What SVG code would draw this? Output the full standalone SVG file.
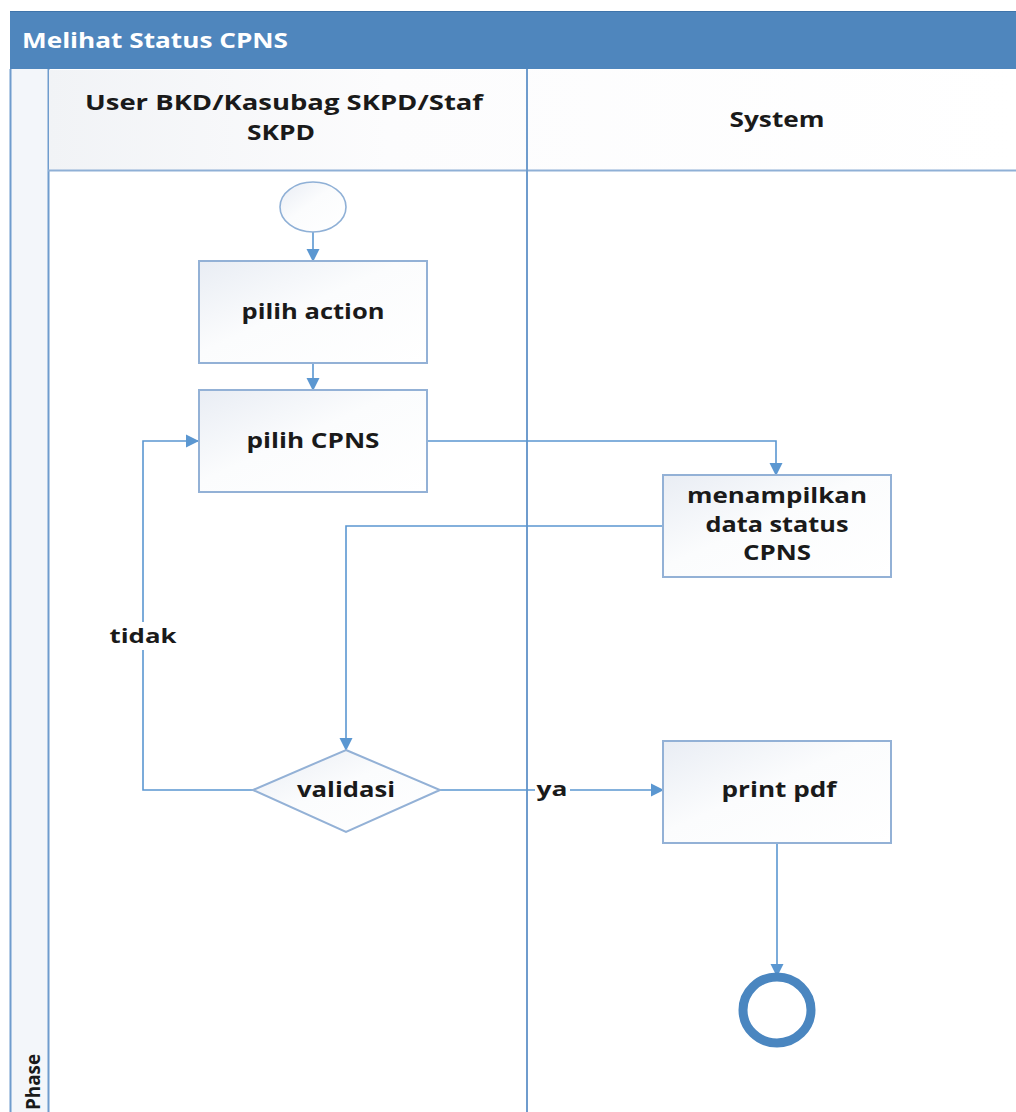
<svg xmlns="http://www.w3.org/2000/svg" width="1016" height="1112" viewBox="0 0 1016 1112">
  <style>
    .lbl { font-family: "Open Sans", "Noto Sans", "Liberation Sans", sans-serif; font-weight: bold; fill: #1a1a1a; }
    .box { stroke: #93b1d6; stroke-width: 2; fill: url(#boxFill); }
    .conn { fill: none; stroke: #5b97d1; stroke-width: 1.6; }
    .lane { stroke: #6f9ccd; stroke-width: 2; fill: none; }
  </style>
  <defs>
    <linearGradient id="boxFill" x1="0" y1="0" x2="1" y2="1">
      <stop offset="0" stop-color="#e9edf4"/>
      <stop offset="0.45" stop-color="#fbfcfd"/>
      <stop offset="1" stop-color="#ffffff"/>
    </linearGradient>
    <linearGradient id="headFill" x1="0" y1="0" x2="1" y2="0">
      <stop offset="0" stop-color="#f1f3f6"/>
      <stop offset="0.35" stop-color="#fcfcfd"/>
      <stop offset="1" stop-color="#ffffff"/>
    </linearGradient>
    <marker id="arrow" markerUnits="userSpaceOnUse" markerWidth="14" markerHeight="14" refX="12" refY="6.5" orient="auto" viewBox="0 0 14 13">
      <path d="M0,0 L13,6.5 L0,13 z" fill="#5b97d1"/>
    </marker>
  </defs>

  <!-- page background -->
  <rect x="0" y="0" width="1016" height="1112" fill="#ffffff"/>

  <!-- pool title bar -->
  <rect x="10" y="11" width="1006" height="58" fill="#4f86bd"/>
  <line x1="10" y1="11.5" x2="1016" y2="11.5" stroke="#3f74aa" stroke-width="1"/>
  <text x="22" y="48" class="lbl" style="fill:#ffffff" font-size="21" textLength="266" lengthAdjust="spacingAndGlyphs">Melihat Status CPNS</text>

  <!-- phase strip -->
  <rect x="10" y="69" width="38" height="1043" fill="#f3f6fa"/>
  <line x1="10.5" y1="69" x2="10.5" y2="1112" class="lane"/>
  <line x1="48.5" y1="69" x2="48.5" y2="1112" class="lane"/>
  <text transform="translate(40,1110) rotate(-90)" class="lbl" font-size="19" textLength="56" lengthAdjust="spacingAndGlyphs">Phase</text>

  <!-- lane headers -->
  <rect x="49" y="70" width="967" height="100" fill="url(#headFill)"/>
  <line x1="48" y1="170.5" x2="1016" y2="170.5" stroke="#8fb0d6" stroke-width="2"/>
  <line x1="527" y1="69" x2="527" y2="1112" class="lane"/>
  <text x="284" y="110" text-anchor="middle" class="lbl" font-size="21" textLength="398" lengthAdjust="spacingAndGlyphs">User BKD/Kasubag SKPD/Staf</text>
  <text x="281" y="140" text-anchor="middle" class="lbl" font-size="21" textLength="68" lengthAdjust="spacingAndGlyphs">SKPD</text>
  <text x="777" y="127" text-anchor="middle" class="lbl" font-size="21" textLength="95" lengthAdjust="spacingAndGlyphs">System</text>

  <!-- connectors -->
  <g id="connectors">
    <line x1="313" y1="232" x2="313" y2="261" class="conn" marker-end="url(#arrow)"/>
    <line x1="313" y1="363" x2="313" y2="390" class="conn" marker-end="url(#arrow)"/>
    <path d="M427 441 H776 V475" class="conn" marker-end="url(#arrow)"/>
    <path d="M663 526 H346 V750" class="conn" marker-end="url(#arrow)"/>
    <path d="M253 790 H143 V441 H198" class="conn" marker-end="url(#arrow)"/>
    <path d="M440 790 H663" class="conn" marker-end="url(#arrow)"/>
    <path d="M777 843 V976" class="conn" marker-end="url(#arrow)"/>
    <!-- branch labels -->
    <rect x="108" y="622" width="72" height="28" fill="#ffffff"/>
    <text x="143" y="643" text-anchor="middle" class="lbl" font-size="20" textLength="67" lengthAdjust="spacingAndGlyphs">tidak</text>
    <rect x="535" y="776" width="35" height="26" fill="#ffffff"/>
    <text x="552" y="796" text-anchor="middle" class="lbl" font-size="20" textLength="31" lengthAdjust="spacingAndGlyphs">ya</text>
  </g>

  <!-- start event -->
  <g id="start">
    <ellipse cx="313" cy="207" rx="33" ry="25" fill="url(#boxFill)" stroke="#8fb0d6" stroke-width="1.6"/>
  </g>

  <g id="pilih-action">
    <rect x="199" y="261" width="228" height="102" class="box"/>
    <text x="313" y="319" text-anchor="middle" class="lbl" font-size="21" textLength="143" lengthAdjust="spacingAndGlyphs">pilih action</text>
  </g>

  <g id="pilih-cpns">
    <rect x="199" y="390" width="228" height="102" class="box"/>
    <text x="313" y="448" text-anchor="middle" class="lbl" font-size="21" textLength="133" lengthAdjust="spacingAndGlyphs">pilih CPNS</text>
  </g>

  <g id="menampilkan">
    <rect x="663" y="475" width="228" height="102" class="box"/>
    <text x="777" y="503" text-anchor="middle" class="lbl" font-size="21" textLength="180" lengthAdjust="spacingAndGlyphs">menampilkan</text>
    <text x="777" y="532" text-anchor="middle" class="lbl" font-size="21" textLength="143" lengthAdjust="spacingAndGlyphs">data status</text>
    <text x="777" y="560" text-anchor="middle" class="lbl" font-size="21" textLength="68" lengthAdjust="spacingAndGlyphs">CPNS</text>
  </g>

  <g id="validasi">
    <polygon points="346,750 440,790 346,832 253,790" fill="url(#boxFill)" stroke="#93b1d6" stroke-width="2"/>
    <text x="346" y="797" text-anchor="middle" class="lbl" font-size="21" textLength="98" lengthAdjust="spacingAndGlyphs">validasi</text>
  </g>

  <g id="print-pdf">
    <rect x="663" y="741" width="228" height="102" class="box"/>
    <text x="779" y="797" text-anchor="middle" class="lbl" font-size="21" textLength="115" lengthAdjust="spacingAndGlyphs">print pdf</text>
  </g>

  <!-- end event -->
  <g id="end">
    <ellipse cx="777" cy="1010" rx="34" ry="33" fill="#ffffff" stroke="#4a86c0" stroke-width="9"/>
  </g>
</svg>
